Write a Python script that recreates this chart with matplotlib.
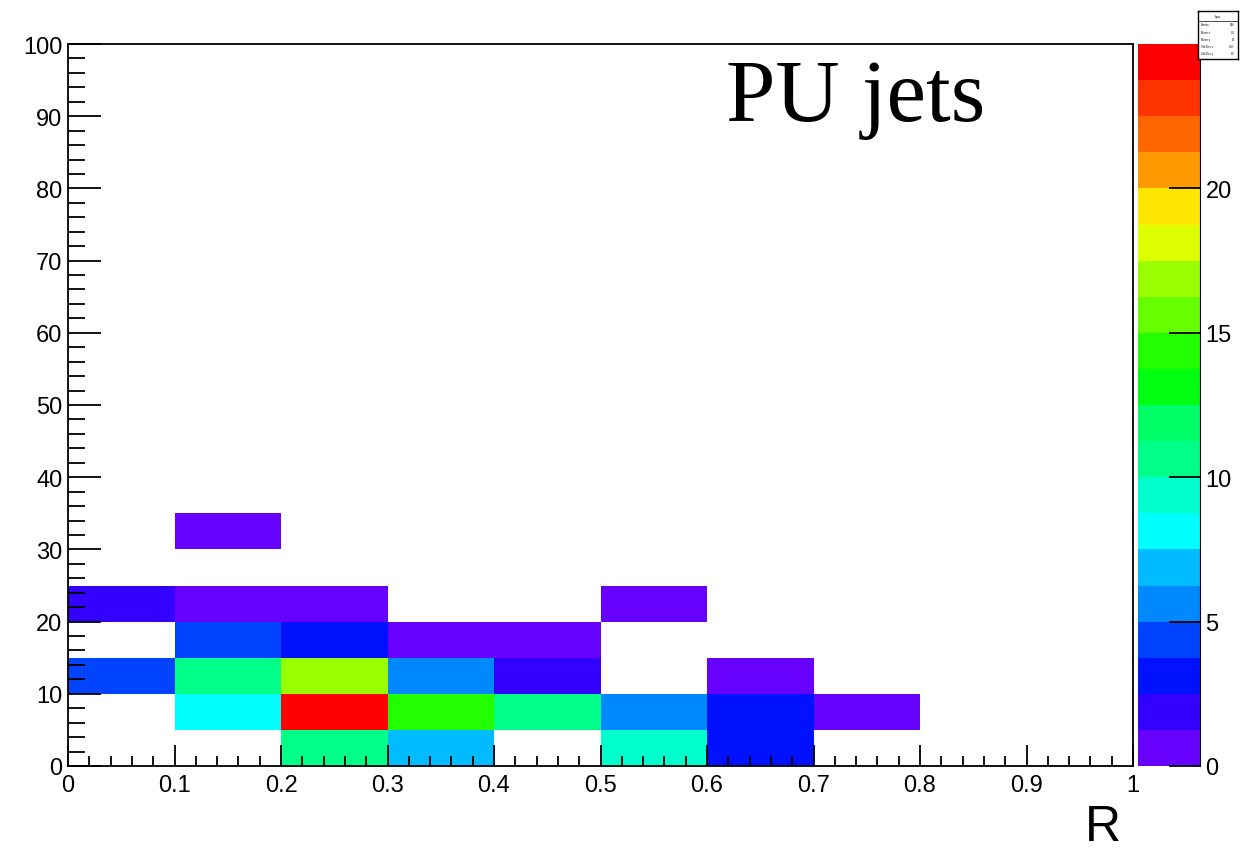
import numpy as np
import matplotlib
matplotlib.use("Agg")
import matplotlib.pyplot as plt
from matplotlib.colors import ListedColormap, BoundaryNorm
from matplotlib.ticker import MultipleLocator

# bin edges
x_edges = np.linspace(0, 1, 11)
y_edges = np.linspace(0, 100, 21)

# counts per y-bin (rows 0-5, 5-10, ...), one value per x-bin 0..1 step 0.1
row_0_5   = [0, 0, 10.5, 7, 0, 9.5, 3, 0, 0, 0]
row_5_10  = [0, 8, 24, 14.5, 10.5, 6, 3, 1, 0, 0]
row_10_15 = [4.5, 10.5, 17, 6, 2, 0, 1, 0, 0, 0]
row_15_20 = [0, 4, 3, 1, 1, 0, 0, 0, 0, 0]
row_20_25 = [2, 1, 1, 0, 0, 1, 0, 0, 0, 0]
row_25_30 = [0] * 10
row_30_35 = [0, 1, 0, 0, 0, 0, 0, 0, 0, 0]

z_max = 25
n_levels = 20
palette = ["#6600ff", "#3300ff", "#0011ff", "#0044ff", "#0088ff",
           "#00bbff", "#00ffff", "#00ffcc", "#00ff88", "#00ff66",
           "#00ff11", "#22ff00", "#66ff00", "#99ff00", "#ddff00",
           "#ffe600", "#ff9900", "#ff6600", "#ff3300", "#ff0000"]

counts = np.zeros((len(y_edges) - 1, len(x_edges) - 1))
for i, row in enumerate([row_0_5, row_5_10, row_10_15, row_15_20,
                         row_20_25, row_25_30, row_30_35]):
    counts[i] = row
counts = np.ma.masked_where(counts <= 0, counts)

cmap = ListedColormap(palette)
norm = BoundaryNorm(np.linspace(0, z_max, n_levels + 1), cmap.N)

fig = plt.figure(figsize=(12.41, 8.54), dpi=100)
plt.rcParams['font.family'] = ['Liberation Sans', 'DejaVu Sans']

ax = fig.add_axes([68 / 1241, 1 - 767 / 854, 1065 / 1241, 722 / 854])
mesh = ax.pcolormesh(x_edges, y_edges, counts, cmap=cmap, norm=norm)
ax.set_xlim(0, 1)
ax.set_ylim(0, 100)

ax.xaxis.set_major_locator(MultipleLocator(0.1))
ax.xaxis.set_minor_locator(MultipleLocator(0.02))
ax.yaxis.set_major_locator(MultipleLocator(10))
ax.yaxis.set_minor_locator(MultipleLocator(2))
ax.set_xticklabels([f"{v:g}" for v in ax.get_xticks()])
ax.tick_params(axis='x', which='major', direction='in', length=15, width=1.3,
               labelsize=17, pad=6)
ax.tick_params(axis='x', which='minor', direction='in', length=7.5, width=1.3)
ax.tick_params(axis='y', which='major', direction='in', length=24, width=1.3,
               labelsize=17, pad=4)
ax.tick_params(axis='y', which='minor', direction='in', length=12, width=1.3)
for s in ax.spines.values():
    s.set_linewidth(1.3)

ax.text(0.618, 0.98, "PU jets", transform=ax.transAxes, ha='left', va='top',
        fontsize=64, family=['Liberation Serif', 'DejaVu Serif'])
fig.text(1103 / 1241, 1 - 828 / 854, "R", ha='center', va='center', fontsize=36)

cax = fig.add_axes([1138 / 1241, 1 - 767 / 854, 62 / 1241, 722 / 854])
cb = fig.colorbar(mesh, cax=cax, ticks=[0, 5, 10, 15, 20])
cb.outline.set_visible(False)
cax.spines['right'].set_visible(True)
cax.tick_params(direction='in', length=22, width=1.3, labelsize=17, pad=4)
cax.minorticks_off()

# small stats box
sax = fig.add_axes([1198 / 1241, 1 - 60 / 854, 40 / 1241, 48 / 854])
sax.set_xticks([])
sax.set_yticks([])
for s in sax.spines.values():
    s.set_linewidth(1.0)
sax.text(0.5, 0.9, "hpu", ha='center', va='center', fontsize=2.5)
for k, (lab, val) in enumerate([("Entries", "146"), ("Mean x", "0.3"),
                                ("Mean y", "12"), ("Std Dev x", "0.17"),
                                ("Std Dev y", "8.5")]):
    sax.text(0.08, 0.72 - k * 0.15, lab, ha='left', va='center', fontsize=2)
    sax.text(0.92, 0.72 - k * 0.15, val, ha='right', va='center', fontsize=2)
sax.axhline(0.8, color='black', lw=0.5)

fig.savefig("out.png", dpi=100)
